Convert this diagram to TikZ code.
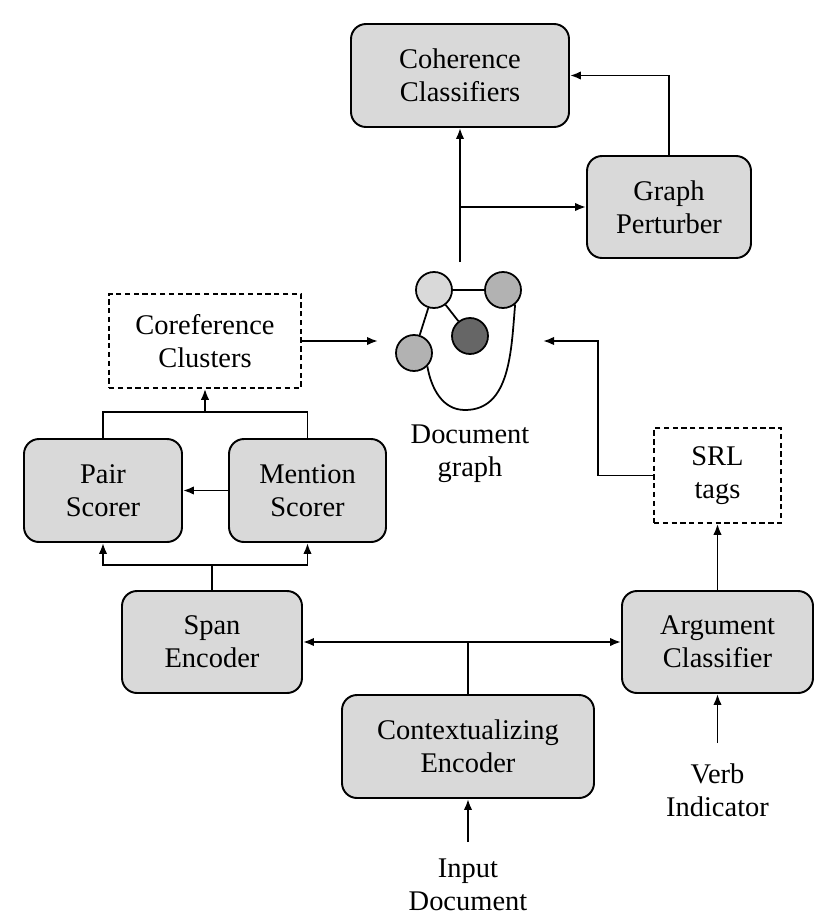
\documentclass[tikz,border=0pt]{standalone}
\usepackage{fontspec}
\setmainfont{Liberation Serif}
\usepackage{tikz}
\usetikzlibrary{arrows.meta}

\definecolor{boxgray}{RGB}{217,217,217}
\definecolor{nodelight}{RGB}{217,217,217}
\definecolor{nodemid}{RGB}{178,178,178}
\definecolor{nodedark}{RGB}{102,102,102}

\begin{document}
\begin{tikzpicture}[
    font=\fontsize{16.2}{18.8}\selectfont,
    >={Latex[length=2.2mm,width=1.7mm]},
    block/.style={draw, line width=1.1pt, rounded corners=0.3cm, fill=boxgray, align=center},
    dbox/.style={draw, dashed, dash pattern=on 3pt off 2pt, line width=1pt, align=center},
    lbl/.style={align=center, inner sep=0.4cm},
    conn/.style={->, line width=1.1pt},
    gnode/.style={circle, draw, line width=1pt, minimum size=0.72cm, inner sep=0pt}
]
    \useasboundingbox (0,0) rectangle (16.6,-18.44);

    % boxes
    \node[block, minimum width=4.36cm, minimum height=2.06cm] (coh) at (9.2,-1.51) {Coherence\\Classifiers};
    \node[block, minimum width=3.28cm, minimum height=2.04cm] (pert) at (13.38,-4.14) {Graph\\Perturber};
    \node[dbox, minimum width=3.84cm, minimum height=1.88cm] (coref) at (4.1,-6.82) {Coreference\\Clusters};
    \node[block, minimum width=3.16cm, minimum height=2.06cm] (pair) at (2.06,-9.81) {Pair\\Scorer};
    \node[block, minimum width=3.14cm, minimum height=2.06cm] (mention) at (6.15,-9.81) {Mention\\Scorer};
    \node[block, minimum width=3.6cm, minimum height=2.04cm] (span) at (4.24,-12.84) {Span\\Encoder};
    \node[block, minimum width=5.04cm, minimum height=2.06cm] (ctx) at (9.36,-14.93) {Contextualizing\\Encoder};
    \node[block, minimum width=3.82cm, minimum height=2.04cm] (arg) at (14.35,-12.84) {Argument\\Classifier};
    \node[dbox, minimum width=2.54cm, minimum height=1.9cm] (srl) at (14.35,-9.51) {SRL\\tags};
    \node[lbl] (verb) at (14.35,-15.8) {Verb\\Indicator};
    \node[lbl, inner sep=0.33cm] (input) at (9.36,-17.7) {Input\\Document};

    % document graph
    \node[gnode, fill=nodelight] (g1) at (8.68,-5.8) {};
    \node[gnode, fill=nodemid] (g2) at (10.06,-5.8) {};
    \node[gnode, fill=nodedark] (g3) at (9.4,-6.72) {};
    \node[gnode, fill=nodemid] (g4) at (8.28,-7.06) {};
    \coordinate (gbot) at (9.3,-8.2);
    \draw[line width=1pt] (g1) -- (g2);
    \draw[line width=1pt] (g1) -- (g3);
    \draw[line width=1pt] (g1) -- (g4);
    \draw[line width=1pt] (g4.-45) to[out=-80,in=180] (gbot) to[out=0,in=-95] (g2.-50);
    \node[lbl] (doclbl) at (9.4,-9.08) {Document\\graph};

    \coordinate (gtop) at (9.2,-5.24);
    \coordinate (gleft) at (7.56,-6.82);
    \coordinate (gright) at (10.86,-6.82);

    % connectors
    \draw[conn] (gtop) -- (coh);
    \draw[conn] (gtop |- pert) -- (pert.west);
    \draw[conn] (pert) |- (coh);
    \draw[conn] (coref.east) -- (gleft);
    \draw[conn] (srl.west) -- ++(-1.1,0) |- (gright);
    \draw[conn] (arg) -- (srl);
    \draw[conn] (verb) -- (arg);
    \draw[conn] (input) -- (ctx);
    \draw[conn] (ctx.north) |- (span.east);
    \draw[conn] (ctx.north) |- (arg.west);
    \draw[line width=1.1pt] (span.north) -- ++(0,0.5) coordinate (sj);
    \draw[conn] (sj) -| (pair.south);
    \draw[conn] (sj) -| (mention.south);
    \draw[conn] (mention) -- (pair);
    \draw[line width=1.1pt] (pair.north) -- ++(0,0.52) coordinate (pj) -| (mention.north);
    \draw[conn] (coref.south |- pj) -- (coref.south);
\end{tikzpicture}
\end{document}
